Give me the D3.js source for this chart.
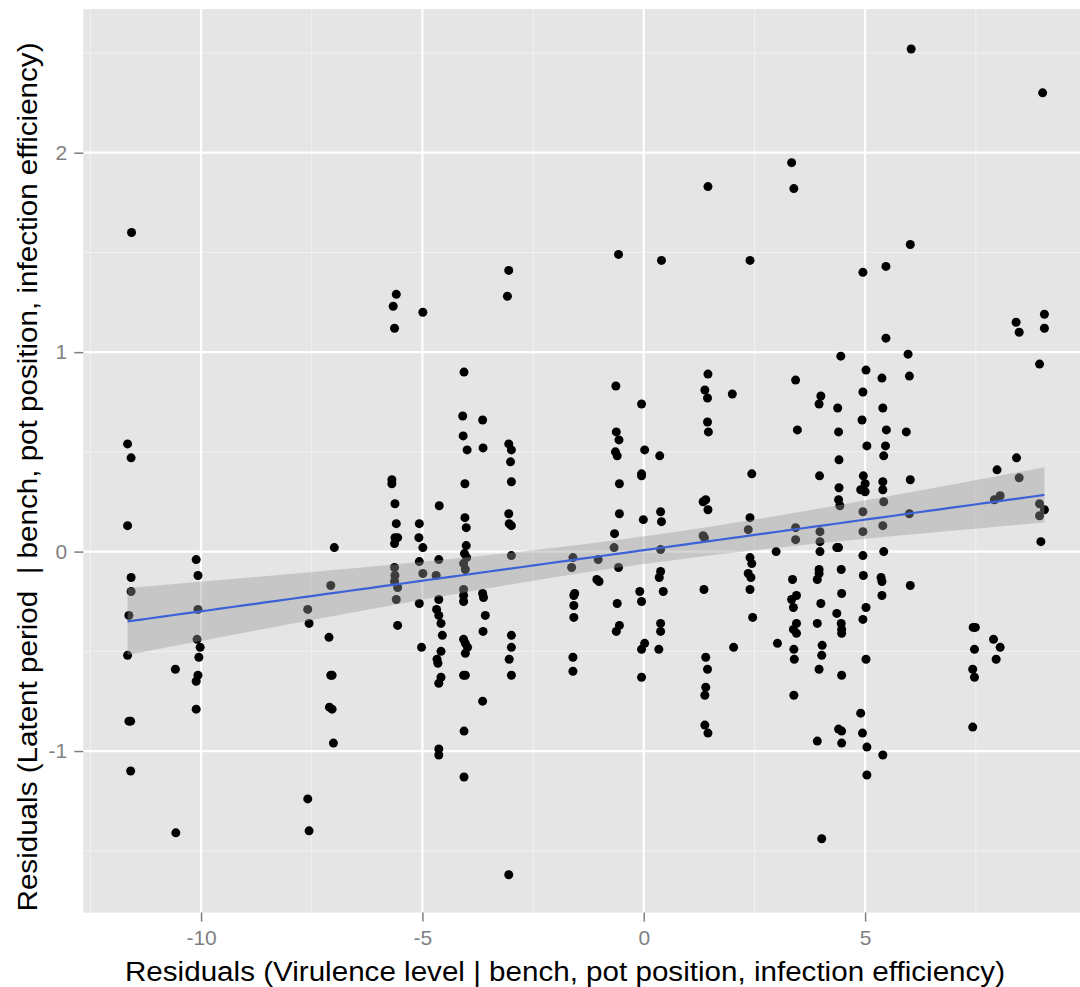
<!DOCTYPE html>
<html>
<head>
<meta charset="utf-8">
<script src="https://cdn.jsdelivr.net/npm/d3@7"></script>
<style>
  body { margin: 0; background: #fff; }
  svg { display: block; font-family: "Liberation Sans", Arial, sans-serif; }
</style>
</head>
<body>
<svg id="chart" width="1080" height="987"></svg>
<script>
// residuals, one line per vertical cluster (same order in both arrays)
const virulenceResid = [
  -11.57,-11.66,-11.58,-11.66,-11.58,-11.58,-11.63,-11.66,-11.63,-11.59,-11.59,
  -10.58,-10.57,
  -10.11,-10.07,-10.07,-10.09,-10.02,-10.05,-10.07,-10.11,-10.11,
  -7.59,-7.56,-7.59,-7.56,
  -6.99,-7.07,-7.11,-7.07,-7.04,-7.10,-7.04,-7.01,
  -5.59,-5.66,-5.63,-5.69,-5.69,-5.62,-5.59,-5.62,-5.56,-5.63,-5.63,-5.62,-5.63,-5.56,-5.59,-5.56,
  -4.99,-5.07,-5.08,-4.99,-5.07,-4.99,-5.07,-5.02,
  -4.62,-4.63,-4.69,-4.63,-4.68,-4.63,-4.58,-4.55,-4.58,-4.67,-4.65,-4.58,-4.63,-4.63,-4.63,
  -4.06,-4.09,-4.08,-3.99,-4.04,-4.04,-4.01,-4.01,-4.05,-4.00,-4.07,-4.03,-4.07,-4.07,-4.07,-4.07,-4.03,-3.98,-4.03,-4.07,-4.03,-4.06,-4.06,
  -3.64,-3.63,-3.64,-3.62,-3.58,-3.63,-3.64,
  -3.05,-3.08,-3.05,-2.99,-3.01,-2.99,-3.05,-3.04,-2.99,-2.99,-2.99,-2.99,-3.04,-2.99,-3.05,
  -1.60,-1.63,-1.56,-1.58,-1.58,-1.58,-1.60,-1.60,
  -1.03,-1.06,-1.01,
  -0.57,-0.63,-0.62,-0.56,-0.64,-0.60,-0.55,-0.55,-0.66,-0.67,-0.57,-0.60,-0.55,-0.62,
  -0.05,0.02,-0.05,-0.05,-0.01,-0.09,-0.05,0.02,-0.05,-0.05,
  0.40,0.36,0.38,0.40,0.38,0.38,0.35,0.44,0.38,0.38,0.34,
  1.45,1.45,1.38,1.44,1.44,1.46,1.40,1.34,1.45,1.34,1.37,1.36,1.40,1.44,1.40,1.38,1.38,1.45,
  2.00,2.03,
  2.40,2.44,2.40,2.36,2.40,2.44,2.36,2.42,2.40,2.46,
  2.99,3.02,
  3.34,3.39,3.43,3.47,3.43,3.43,3.36,3.45,3.34,3.38,3.45,3.38,3.45,3.39,3.40,3.39,
  4.00,3.96,3.97,3.98,3.98,3.98,3.96,3.96,3.92,4.00,3.92,4.03,4.02,3.96,3.92,4.02,
  4.45,4.38,4.40,4.41,4.41,4.40,4.43,4.40,4.36,4.46,4.47,4.36,4.46,4.47,4.47,4.47,4.40,4.47,4.47,
  4.95,5.02,4.95,4.93,5.04,4.96,5.00,4.90,5.00,4.95,4.95,4.95,4.96,5.02,4.95,5.02,4.90,4.94,5.04,5.04,
  5.47,5.47,5.38,5.40,5.48,5.46,5.42,5.40,5.40,5.42,5.40,5.42,5.36,5.38,5.38,5.40,
  6.04,6.02,5.97,6.00,5.93,6.02,6.00,6.02,
  7.44,7.49,7.47,7.43,7.47,7.43,
  7.98,8.05,7.92,7.90,8.05,7.96,
  8.41,8.48,8.42,8.48,
  9.01,9.05,9.05,8.94,8.94,9.05,8.94,8.97
];
const latentResid = [
  1.60,0.54,0.47,0.13,-0.13,-0.20,-0.32,-0.52,-0.85,-0.85,-1.10,
  -0.59,-1.41,
  -0.04,-0.12,-0.29,-0.44,-0.48,-0.53,-0.62,-0.65,-0.79,
  -0.29,-0.36,-1.24,-1.40,
  0.02,-0.17,-0.43,-0.62,-0.62,-0.78,-0.79,-0.96,
  1.29,1.23,1.12,0.36,0.34,0.24,0.14,0.07,0.07,0.04,-0.08,-0.12,-0.15,-0.18,-0.24,-0.37,
  1.20,0.14,0.07,0.02,-0.05,-0.11,-0.26,-0.48,
  0.23,-0.04,-0.12,-0.24,-0.29,-0.32,-0.36,-0.42,-0.50,-0.54,-0.56,-0.63,-0.66,-0.99,-1.02,
  0.90,0.68,0.58,0.51,0.34,0.17,0.12,0.03,-0.01,-0.03,-0.06,-0.09,-0.19,-0.22,-0.25,-0.44,-0.46,-0.48,-0.51,-0.62,-0.62,-0.90,-1.13,
  0.66,0.52,-0.21,-0.23,-0.32,-0.40,-0.75,
  1.41,1.28,0.54,0.51,0.45,0.35,0.19,0.14,0.13,-0.02,-0.42,-0.48,-0.54,-0.62,-1.62,
  -0.03,-0.08,-0.21,-0.22,-0.27,-0.33,-0.53,-0.60,
  -0.04,-0.14,-0.15,
  1.49,0.83,0.60,0.56,0.50,0.48,0.34,0.19,0.09,0.02,-0.08,-0.26,-0.37,-0.40,
  0.74,0.51,0.39,0.38,0.16,-0.20,-0.25,-0.46,-0.49,-0.63,
  1.46,0.48,0.20,0.15,0.01,-0.10,-0.13,-0.20,-0.36,-0.40,-0.49,
  1.83,0.89,0.81,0.77,0.65,0.60,0.26,0.25,0.21,0.08,0.07,-0.19,-0.53,-0.59,-0.68,-0.72,-0.87,-0.91,
  0.79,-0.48,
  1.46,0.39,0.17,0.11,-0.03,-0.06,-0.11,-0.13,-0.19,-0.33,
  0.00,-0.46,
  1.95,1.82,0.86,0.61,0.12,0.06,-0.14,-0.22,-0.24,-0.28,-0.36,-0.39,-0.41,-0.49,-0.54,-0.72,
  0.78,0.74,0.38,0.10,0.05,0.00,-0.09,-0.11,-0.14,-0.26,-0.36,-0.47,-0.52,-0.59,-0.95,-1.44,
  0.98,0.72,0.60,0.46,0.32,0.26,0.23,0.02,0.02,-0.09,-0.21,-0.31,-0.36,-0.39,-0.41,-0.62,-0.89,-0.90,-0.96,
  1.40,0.91,0.80,0.66,0.53,0.38,0.34,0.31,0.30,0.20,0.10,-0.02,-0.12,-0.28,-0.34,-0.54,-0.81,-0.91,-0.98,-1.12,
  1.43,1.07,0.87,0.72,0.61,0.53,0.48,0.35,0.31,0.25,0.13,0.00,-0.13,-0.15,-0.22,-1.02,
  2.52,1.54,0.99,0.88,0.60,0.36,0.19,-0.17,
  -0.38,-0.38,-0.49,-0.59,-0.63,-0.88,
  0.41,0.28,0.26,-0.44,-0.48,-0.54,
  1.15,1.10,0.47,0.37,
  2.30,1.19,1.12,0.94,0.24,0.21,0.18,0.05
];

const xTicks = [-10, -5, 0, 5];
const xMinor = [-12.5, -7.5, -2.5, 2.5, 7.5];
const yTicks = [-1, 0, 1, 2];
const yMinor = [-1.5, -0.5, 0.5, 1.5, 2.5];
const xTitle = "Residuals (Virulence level | bench, pot position, infection efficiency)";
const yTitle = "Residuals (Latent period  | bench, pot position, infection efficiency)";

let svg = d3.select("#chart");

// panel runs off the right edge of the picture (the original was cropped)
let x = d3.scaleLinear().domain([-12.66, 10.1]).range([83.3, 1090.9]);
let y = d3.scaleLinear().domain([-1.81, 2.72]).range([912.6, 9.1]);

let data = virulenceResid.map((v, i) => ({ x: v, y: latentResid[i] }));

svg.append("rect")
  .attr("x", x(-12.66)).attr("y", y(2.72))
  .attr("width", x(10.1) - x(-12.66)).attr("height", y(-1.81) - y(2.72))
  .attr("fill", "#e5e5e5");

let grid = svg.append("g");
grid.selectAll(".vminor").data(xMinor).join("line")
  .attr("x1", d => x(d)).attr("x2", d => x(d))
  .attr("y1", y(2.72)).attr("y2", y(-1.81))
  .attr("stroke", "#f2f2f2").attr("stroke-width", 1);
grid.selectAll(".hminor").data(yMinor).join("line")
  .attr("y1", d => y(d)).attr("y2", d => y(d))
  .attr("x1", x(-12.66)).attr("x2", x(10.1))
  .attr("stroke", "#f2f2f2").attr("stroke-width", 1);
grid.selectAll(".vmajor").data(xTicks).join("line")
  .attr("x1", d => x(d)).attr("x2", d => x(d))
  .attr("y1", y(2.72)).attr("y2", y(-1.81))
  .attr("stroke", "#fff").attr("stroke-width", 2.2);
grid.selectAll(".hmajor").data(yTicks).join("line")
  .attr("y1", d => y(d)).attr("y2", d => y(d))
  .attr("x1", x(-12.66)).attr("x2", x(10.1))
  .attr("stroke", "#fff").attr("stroke-width", 2.2);

// points
svg.append("g").selectAll("circle").data(data).join("circle")
  .attr("cx", d => x(d.x)).attr("cy", d => y(d.y))
  .attr("r", 4.5).attr("fill", "#000");

// linear fit + 95% confidence band, like geom_smooth(method = "lm")
let n = data.length;
let mx = d3.mean(data, d => d.x), my = d3.mean(data, d => d.y);
let sxx = d3.sum(data, d => (d.x - mx) ** 2);
let sxy = d3.sum(data, d => (d.x - mx) * (d.y - my));
let slope = sxy / sxx, icpt = my - slope * mx;
let sse = d3.sum(data, d => (d.y - icpt - slope * d.x) ** 2);
let s = Math.sqrt(sse / (n - 2));
let tq = 1.9676;
let [xlo, xhi] = d3.extent(data, d => d.x);
let fit = d3.range(80).map(i => {
  let xv = xlo + (xhi - xlo) * i / 79;
  let yv = icpt + slope * xv;
  let se = s * Math.sqrt(1 / n + (xv - mx) ** 2 / sxx);
  return { x: xv, y: yv, lo: yv - tq * se, hi: yv + tq * se };
});

svg.append("path").datum(fit)
  .attr("d", d3.area().x(d => x(d.x)).y0(d => y(d.lo)).y1(d => y(d.hi)))
  .attr("fill", "#999999").attr("fill-opacity", 0.4);
svg.append("path").datum(fit)
  .attr("d", d3.line().x(d => x(d.x)).y(d => y(d.y)))
  .attr("fill", "none").attr("stroke", "#3d62d8").attr("stroke-width", 2.2);

// axes
let xAxis = svg.append("g").attr("transform", `translate(0,${y(-1.81)})`)
  .call(d3.axisBottom(x).tickValues(xTicks).tickSize(9).tickPadding(8).tickFormat(d => String(d)));
let yAxis = svg.append("g").attr("transform", `translate(${x(-12.66)},0)`)
  .call(d3.axisLeft(y).tickValues(yTicks).tickSize(9).tickPadding(7).tickFormat(d => String(d)));
[xAxis, yAxis].forEach(a => {
  a.select(".domain").remove();
  a.selectAll(".tick line").attr("stroke", "#7f7f7f").attr("stroke-width", 1.5);
  a.selectAll(".tick text").attr("fill", "#7f7f7f").attr("font-size", 21)
    .attr("font-family", "Liberation Sans, Arial, sans-serif");
});

svg.append("text")
  .attr("x", 565).attr("y", 981)
  .attr("text-anchor", "middle").attr("font-size", 27)
  .attr("textLength", 880).attr("lengthAdjust", "spacingAndGlyphs")
  .attr("fill", "#000")
  .text(xTitle);
svg.append("text")
  .attr("transform", "translate(37,477) rotate(-90)")
  .attr("text-anchor", "middle").attr("font-size", 27)
  .attr("textLength", 869).attr("lengthAdjust", "spacingAndGlyphs")
  .attr("fill", "#000")
  .style("white-space", "pre")
  .text(yTitle);
</script>
</body>
</html>
